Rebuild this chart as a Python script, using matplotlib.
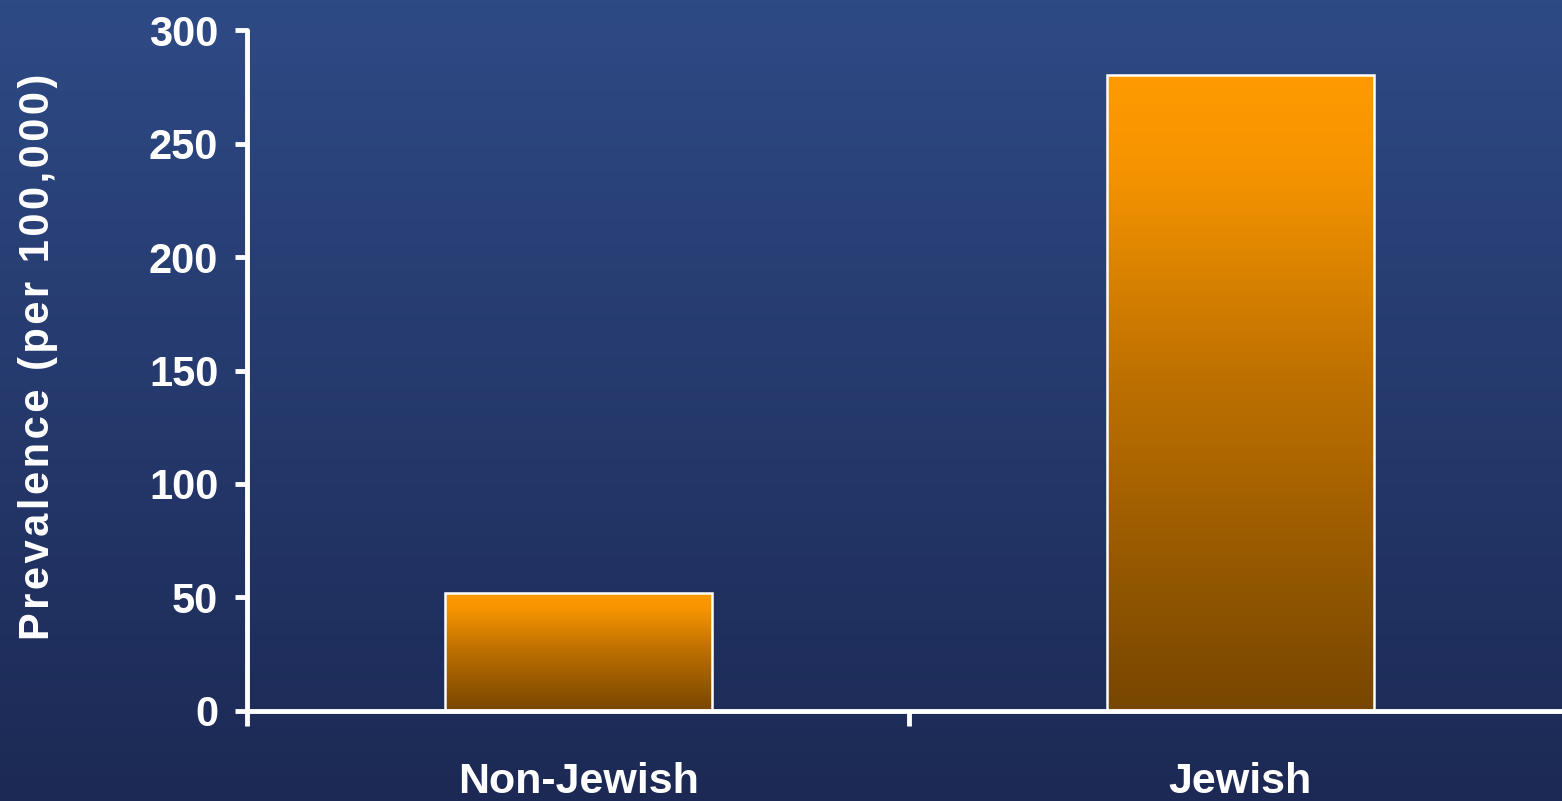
import matplotlib.pyplot as plt
import matplotlib.colors as mcolors
import numpy as np

# data
groups = ['Non-Jewish', 'Jewish']
prevalence = [52, 280]
yticks = [0, 50, 100, 150, 200, 250, 300]
ylabel = 'Prevalence (per 100,000)'

fig = plt.figure(figsize=(15.62, 8.01), dpi=100)

# background gradient
bg = fig.add_axes([0, 0, 1, 1], zorder=-10)
bg_cmap = mcolors.LinearSegmentedColormap.from_list('bg', ['#1c2954', '#2e4a85'])
grad = np.linspace(0, 1, 256).reshape(-1, 1)
bg.imshow(grad, aspect='auto', cmap=bg_cmap, origin='lower', extent=[0, 1, 0, 1])
bg.axis('off')

ax = fig.add_axes([0.1584, 0.1124, 0.8476, 0.8501])
ax.patch.set_alpha(0)

x = np.arange(len(groups))
bars = ax.bar(x, prevalence, width=0.403, color='none', edgecolor='white', linewidth=1.8, zorder=3)

bar_cmap = mcolors.LinearSegmentedColormap.from_list(
    'bar', [(0, '#774600'), (0.55, '#c27300'), (0.85, '#f59400'), (1, '#ff9a00')])
for b in bars:
    x0, y0 = b.get_x(), b.get_y()
    w, h = b.get_width(), b.get_height()
    im = ax.imshow(grad, aspect='auto', cmap=bar_cmap, origin='lower',
                   extent=[x0, x0 + w, y0, y0 + h], zorder=2)
    im.set_clip_path(b)

ax.set_xlim(-0.5, 1.5)
ax.set_ylim(0, 300)
ax.set_yticks(yticks)

ax.set_xticks(x)
ax.set_xticklabels(groups)
ax.set_xticks([-0.5, 0.5, 1.5], minor=True)

for s in ['top', 'right']:
    ax.spines[s].set_visible(False)
for s in ['left', 'bottom']:
    ax.spines[s].set_color('white')
    ax.spines[s].set_linewidth(3.5)
    ax.spines[s].set_capstyle('round')

ax.tick_params(axis='y', colors='white', length=9, width=3.5, pad=12, labelsize=30)
ax.tick_params(axis='x', which='major', length=0, pad=37, labelsize=31, colors='white')
ax.tick_params(axis='x', which='minor', length=11, width=3.5, color='white')
for lab in ax.get_yticklabels():
    lab.set_fontweight('bold')
    lab.set_fontfamily(['Liberation Sans', 'DejaVu Sans'])
for lab in ax.get_xticklabels():
    lab.set_fontweight('bold')
    lab.set_fontfamily(['Liberation Sans Narrow', 'Liberation Sans', 'DejaVu Sans'])

# letter-spaced axis title, as on the slide
ax.set_ylabel('\u200a'.join(ylabel), color='white', fontsize=30, fontweight='bold',
              family=['Liberation Sans', 'DejaVu Sans'])
ax.yaxis.set_label_coords(-0.143, 0.52)

fig.savefig('out.png', dpi=100)
